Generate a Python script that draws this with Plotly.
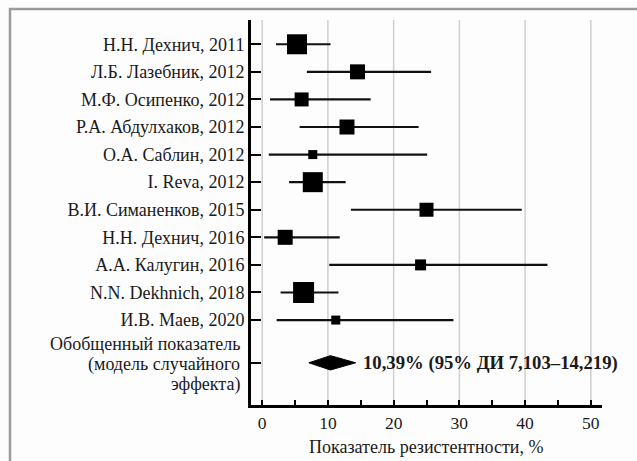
import plotly.graph_objects as go

# Studies (top to bottom), point estimates and 95% CI of resistance, %
studies = [
    "Н.Н. Дехнич, 2011",
    "Л.Б. Лазебник, 2012",
    "М.Ф. Осипенко, 2012",
    "Р.А. Абдулхаков, 2012",
    "О.А. Саблин, 2012",
    "I. Reva, 2012",
    "В.И. Симаненков, 2015",
    "Н.Н. Дехнич, 2016",
    "А.А. Калугин, 2016",
    "N.N. Dekhnich, 2018",
    "И.В. Маев, 2020",
]
estimate = [5.3, 14.5, 6.0, 12.9, 7.7, 7.7, 25.0, 3.5, 24.1, 6.3, 11.2]
ci_low = [2.1, 6.8, 1.2, 5.7, 1.0, 4.1, 13.5, 0.3, 10.2, 2.8, 2.2]
ci_high = [10.4, 25.7, 16.5, 23.8, 25.1, 12.7, 39.5, 11.8, 43.4, 11.6, 29.1]

# Pooled estimate (random-effects model)
pooled_label_lines = ["Обобщенный показатель", "(модель случайного", "эффекта)"]
pooled_est = 10.39
pooled_low = 7.103
pooled_high = 14.219

x_ticks = [0, 10, 20, 30, 40, 50]
x_title = "Показатель резистентности, %"

# Marker widths in px (study weight)
marker_px = [20, 15, 14, 15, 9, 20, 14, 15, 11, 21, 9]

row_pos = list(range(1, len(studies) + 1))
pooled_pos = len(studies) + 1.55

SERIF = "Times New Roman, Liberation Serif, DejaVu Serif, serif"
INK = "#1a1a1a"
FS = 18

fig = go.Figure()

fig.add_trace(go.Scatter(
    x=estimate,
    y=row_pos,
    mode="markers",
    marker=dict(symbol="square", size=marker_px, color="#000000", opacity=1,
                line=dict(width=0)),
    error_x=dict(
        type="data",
        symmetric=False,
        array=[h - e for h, e in zip(ci_high, estimate)],
        arrayminus=[e - l for e, l in zip(estimate, ci_low)],
        width=0,
        thickness=2.2,
        color="#111111",
    ),
    showlegend=False,
    hoverinfo="skip",
))

# Pooled diamond
half_h = 0.26
fig.add_trace(go.Scatter(
    x=[pooled_low, pooled_est, pooled_high, pooled_est, pooled_low],
    y=[pooled_pos, pooled_pos - half_h, pooled_pos, pooled_pos + half_h, pooled_pos],
    mode="lines",
    fill="toself",
    fillcolor="#000000",
    line=dict(color="#000000", width=1),
    showlegend=False,
    hoverinfo="skip",
))

fig.add_annotation(
    x=pooled_high,
    y=pooled_pos,
    xref="x",
    yref="y",
    text="<b>%s%% (95%% ДИ %s–%s)</b>" % (
        f"{pooled_est:.2f}".replace(".", ","),
        f"{pooled_low:.3f}".replace(".", ","),
        f"{pooled_high:.3f}".replace(".", ","),
    ),
    showarrow=False,
    xanchor="left",
    yanchor="middle",
    xshift=5,
    font=dict(family=SERIF, size=18.7, color=INK),
)

# Pooled row label, three right-aligned lines next to the axis
for i, line in enumerate(pooled_label_lines):
    fig.add_annotation(
        x=0,
        y=pooled_pos,
        xref="paper",
        yref="y",
        text=line,
        showarrow=False,
        xanchor="right",
        yanchor="middle",
        xshift=-9,
        yshift=20.5 * (1 - i) - 1.5,
        font=dict(family=SERIF, size=FS, color=INK),
    )

# Axis title below the tick labels
fig.add_annotation(
    x=0.5,
    y=0,
    xref="paper",
    yref="paper",
    text=x_title,
    showarrow=False,
    xanchor="center",
    yanchor="middle",
    yshift=-42,
    font=dict(family=SERIF, size=FS, color=INK),
)

# Grey frame (top and left edges)
fig.add_shape(
    type="path",
    xref="paper",
    yref="paper",
    path="M -0.6866,-0.3 L -0.6866,1.0286 L 1.2,1.0286",
    line=dict(color="#9a9a9a", width=2.5),
)

fig.update_layout(
    width=637,
    height=461,
    margin=dict(l=251, r=35, t=20, b=56),
    paper_bgcolor="#fdfdfd",
    plot_bgcolor="#fdfdfd",
    font=dict(family=SERIF, size=FS, color=INK),
    xaxis=dict(
        range=[-1.7, 51.7],
        tickvals=[v for v in range(0, 51, 5)],
        ticktext=[str(v) if v in x_ticks else "" for v in range(0, 51, 5)],
        ticks="inside",
        ticklen=5,
        tickwidth=1.5,
        tickcolor="#000000",
        showgrid=False,
        showline=True,
        linecolor="#000000",
        linewidth=3,
        zeroline=False,
        automargin=False,
        tickfont=dict(family=SERIF, size=17.5, color=INK),
    ),
    yaxis=dict(
        range=[pooled_pos + 1.53, 0.12],
        tickvals=row_pos + [pooled_pos],
        ticktext=studies + [""],
        ticks="inside",
        ticklen=10,
        tickwidth=1.5,
        tickcolor="#000000",
        showgrid=False,
        showline=True,
        linecolor="#000000",
        linewidth=3,
        zeroline=False,
        automargin=False,
        tickfont=dict(family=SERIF, size=FS, color=INK),
    ),
)

# Vertical reference lines at major x ticks
for v in x_ticks:
    fig.add_shape(
        type="line",
        xref="x",
        yref="paper",
        x0=v,
        x1=v,
        y0=0,
        y1=1,
        line=dict(color="#cfcfcf", width=1.5),
        layer="below",
    )

fig.write_html("out.html")
